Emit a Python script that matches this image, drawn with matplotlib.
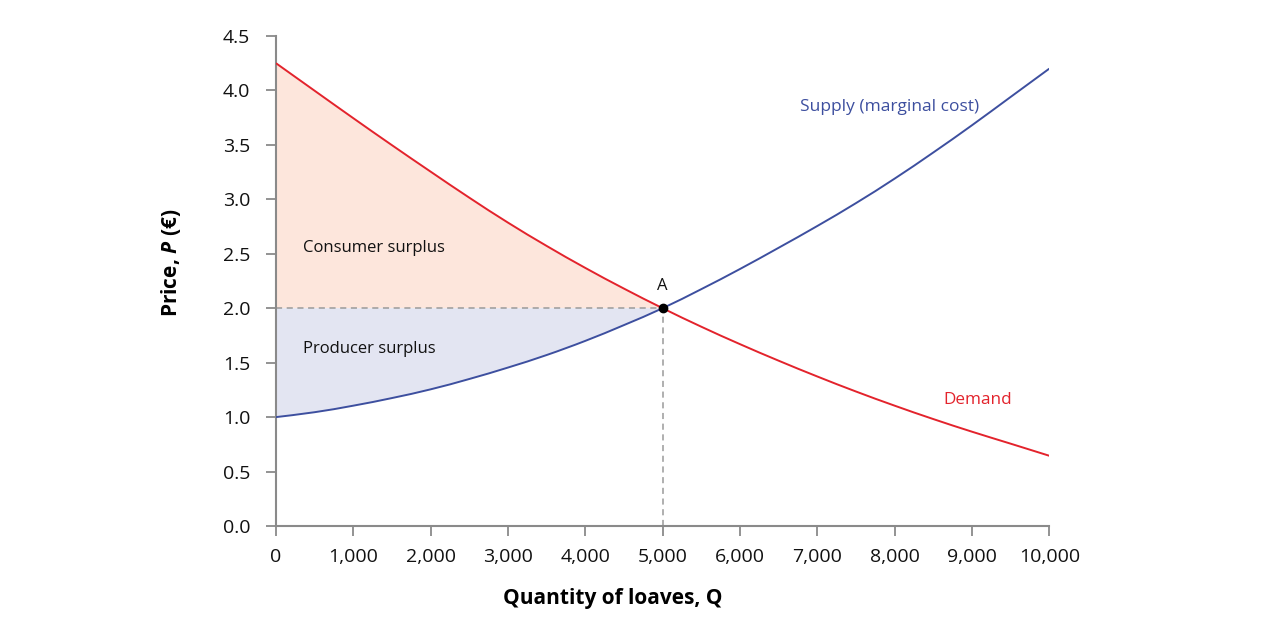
import matplotlib
matplotlib.use("Agg")
import matplotlib.pyplot as plt
from matplotlib.path import Path
from matplotlib.patches import PathPatch

# Data
quantity = [0, 500, 1000, 1500, 2000, 2500, 3000, 3500, 4000, 4500, 5000,
            5500, 6000, 6500, 7000, 7500, 8000, 8500, 9000, 9500, 10000]
demand = [4.25, 3.997, 3.745, 3.497, 3.254, 3.015, 2.786, 2.572, 2.37, 2.18, 2.00,
          1.83, 1.67, 1.518, 1.373, 1.235, 1.105, 0.982, 0.866, 0.756, 0.645]
supply = [1.00, 1.045, 1.105, 1.175, 1.255, 1.35, 1.455, 1.57, 1.70, 1.845, 2.00,
          2.175, 2.36, 2.555, 2.755, 2.965, 3.19, 3.43, 3.68, 3.94, 4.20]
eq_q, eq_p = 5000, 2.0
x_ticks = [0, 1000, 2000, 3000, 4000, 5000, 6000, 7000, 8000, 9000, 10000]
x_tick_labels = ["0", "1,000", "2,000", "3,000", "4,000", "5,000", "6,000",
                 "7,000", "8,000", "9,000", "10,000"]
y_ticks = [0.0, 0.5, 1.0, 1.5, 2.0, 2.5, 3.0, 3.5, 4.0, 4.5]
y_tick_labels = ["0.0", "0.5", "1.0", "1.5", "2.0", "2.5", "3.0", "3.5", "4.0", "4.5"]

FONT = "Open Sans"
plt.rcParams["font.family"] = [FONT, "DejaVu Sans"]
plt.rcParams["mathtext.fontset"] = "custom"
plt.rcParams["mathtext.it"] = f"{FONT}:italic:bold"
plt.rcParams["mathtext.rm"] = f"{FONT}:bold"

RED = "#e3232c"
BLUE = "#3d4f9f"
CS_FILL = "#fde6dc"
PS_FILL = "#e3e5f2"
GRAY = "#8a8a8a"


def smooth_segments(xs, ys):
    """Catmull-Rom through the given points, expressed as cubic Bezier path pieces."""
    pts = list(zip(xs, ys))
    n = len(pts)
    verts = [pts[0]]
    codes = [Path.MOVETO]
    for i in range(n - 1):
        p0 = pts[i - 1] if i > 0 else pts[i]
        p1 = pts[i]
        p2 = pts[i + 1]
        p3 = pts[i + 2] if i + 2 < n else pts[i + 1]
        c1 = (p1[0] + (p2[0] - p0[0]) / 6, p1[1] + (p2[1] - p0[1]) / 6)
        c2 = (p2[0] - (p3[0] - p1[0]) / 6, p2[1] - (p3[1] - p1[1]) / 6)
        verts += [c1, c2, p2]
        codes += [Path.CURVE4] * 3
    return verts, codes


fig = plt.figure(figsize=(12.63, 6.31), dpi=100)
ax = fig.add_axes([0.2185, 0.1664, 0.6123, 0.7766])

# surplus areas
left_q = [q for q in quantity if q <= eq_q]
left_d = [d for q, d in zip(quantity, demand) if q <= eq_q]
left_s = [s for q, s in zip(quantity, supply) if q <= eq_q]

v, c = smooth_segments(left_q, left_d)
v += [(0, eq_p), (0, left_d[0])]
c += [Path.LINETO, Path.CLOSEPOLY]
ax.add_patch(PathPatch(Path(v, c), facecolor=CS_FILL, lw=0, zorder=1))

v, c = smooth_segments(left_q, left_s)
v += [(0, eq_p), (0, left_s[0])]
c += [Path.LINETO, Path.CLOSEPOLY]
ax.add_patch(PathPatch(Path(v, c), facecolor=PS_FILL, lw=0, zorder=1))

# dashed guides
ax.plot([0, eq_q], [eq_p, eq_p], color="#9a9a9a", lw=1.1, ls=(0, (4, 3)), zorder=2)
ax.plot([eq_q, eq_q], [0, eq_p], color="#9a9a9a", lw=1.1, ls=(0, (4, 3)), zorder=2)

# curves
v, c = smooth_segments(quantity, demand)
ax.add_patch(PathPatch(Path(v, c), facecolor="none", edgecolor=RED, lw=1.4, zorder=3))
v, c = smooth_segments(quantity, supply)
ax.add_patch(PathPatch(Path(v, c), facecolor="none", edgecolor=BLUE, lw=1.4, zorder=3))
ax.plot([eq_q], [eq_p], "o", color="black", ms=6, zorder=4)

# labels
ax.text(350, 2.55, "Consumer surplus", fontsize=12, va="center", ha="left", color="#111111")
ax.text(350, 1.63, "Producer surplus", fontsize=12, va="center", ha="left", color="#111111")
ax.text(eq_q, 2.2, "A", fontsize=12, ha="center", va="center", color="#111111")
ax.text(6780, 3.85, "Supply (marginal cost)", fontsize=12.5, ha="left", va="center", color=BLUE)
ax.text(8630, 1.16, "Demand", fontsize=12.3, ha="left", va="center", color=RED)

ax.set_xlim(0, 10000)
ax.set_ylim(0, 4.5)
ax.set_xticks(x_ticks)
ax.set_xticklabels(x_tick_labels)
ax.set_yticks(y_ticks)
ax.set_yticklabels(y_tick_labels)
ax.tick_params(axis="both", colors=GRAY, labelcolor="#111111", labelsize=14,
               length=7, width=1.3, direction="out")
ax.tick_params(axis="x", pad=8.5)
ax.tick_params(axis="y", pad=11.5)

for side in ["top", "right"]:
    ax.spines[side].set_visible(False)
for side in ["left", "bottom"]:
    ax.spines[side].set_color(GRAY)
    ax.spines[side].set_linewidth(1.5)

ax.set_xlabel("Quantity of loaves, Q", fontsize=15, fontweight="bold")
ax.set_ylabel(r"Price, $P$ (€)", fontsize=15, fontweight="bold")
ax.xaxis.set_label_coords(0.436, -0.127)
ax.yaxis.set_label_coords(-0.120, 0.537)

fig.savefig("out.png", dpi=100)
